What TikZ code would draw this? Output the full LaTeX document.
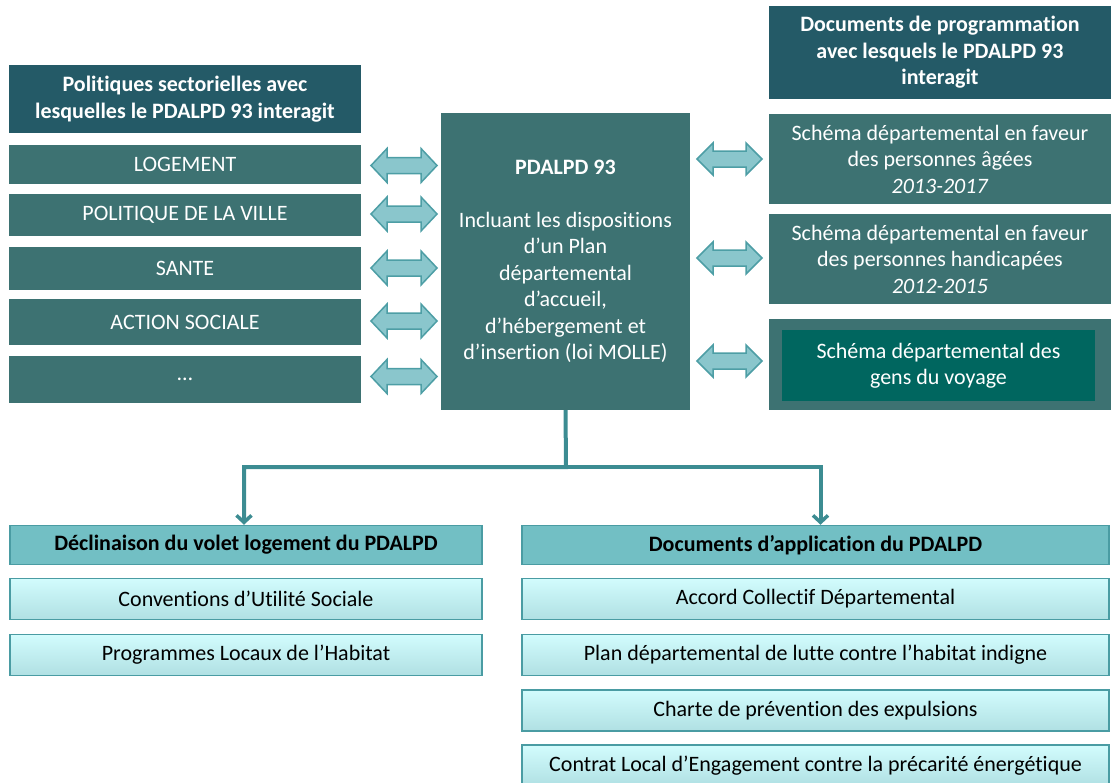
\documentclass[tikz,border=0pt]{standalone}
\usepackage{fontspec}
\setmainfont{Carlito}[RawFeature={-liga}]
\usetikzlibrary{arrows.meta}
\definecolor{hdrc}{HTML}{245A67}
\definecolor{itemc}{HTML}{3D7272}
\definecolor{gensc}{HTML}{00665F}
\definecolor{arrfill}{HTML}{8AC6CC}
\definecolor{arrdraw}{HTML}{4D9EA5}
\definecolor{bhfill}{HTML}{72BFC4}
\definecolor{bdraw}{HTML}{4A9CA3}
\definecolor{btop}{HTML}{D2FCFD}
\definecolor{bbot}{HTML}{B0E0E3}
\definecolor{connc}{HTML}{3C8C92}
\tikzset{
  box/.style={inner sep=0pt, align=center, font=\fontsize{22}{26.5}\selectfont},
  hdr/.style={box, fill=hdrc, text=white, font=\fontsize{22}{26.5}\selectfont\bfseries},
  itembox/.style={box, fill=itemc, text=white},
  gensbox/.style={box, fill=gensc, text=white},
  bhdr/.style={box, fill=bhfill, draw=bdraw, line width=1.5pt, text=black, font=\fontsize{22}{26.5}\selectfont\bfseries},
  bitem/.style={box, top color=btop, bottom color=bbot, draw=bdraw, line width=1.5pt, text=black},
  darr/.style={fill=arrfill, draw=arrdraw, line width=1.5pt, line join=miter},
  conn/.style={draw=connc, line width=4pt, -{Straight Barb[length=7pt,width=15pt,line width=3.5pt]}},
}
% double arrow: x1, x2, yc, half head height
\newcommand\darrow[4]{%
  \draw[darr] (#1,#3) -- ({#1+16},{#3-#4}) -- ({#1+16},{#3-8}) -- ({#2-16},{#3-8}) -- ({#2-16},{#3-#4})
    -- (#2,#3) -- ({#2-16},{#3+#4}) -- ({#2-16},{#3+8}) -- ({#1+16},{#3+8}) -- ({#1+16},{#3+#4}) -- cycle;}
\begin{document}
\begin{tikzpicture}[x=1pt,y=-1pt]
\useasboundingbox (0,0) rectangle (1111,782);
\begin{scope}
\clip (0,0) rectangle (1111,782);
% left column
\node[hdr, minimum width=352pt, minimum height=68pt] (lh) at (185,99) {Politiques sectorielles avec\\lesquelles le PDALPD 93 interagit};
\node[itembox, minimum width=352pt, minimum height=39pt] (l1) at (185,164.5) {LOGEMENT};
\node[itembox, minimum width=352pt, minimum height=42pt] (l2) at (185,215) {POLITIQUE DE LA VILLE};
\node[itembox, minimum width=352pt, minimum height=43pt] (l3) at (185,268.5) {SANTE};
\node[itembox, minimum width=352pt, minimum height=46pt] (l4) at (185,322) {ACTION SOCIALE};
\node[itembox, minimum width=352pt, minimum height=47pt] (l5) at (185,379.5) {…};
% centre
\node[itembox, minimum width=249pt, minimum height=297pt] (c) at (565.5,261.5) {{\bfseries PDALPD 93}\\[26pt]Incluant les dispositions\\d’un Plan\\départemental\\d’accueil,\\d’hébergement et\\d’insertion (loi MOLLE)};
% right column
\node[hdr, minimum width=342pt, minimum height=93pt] (rh) at (940,52.5) {Documents de programmation\\avec lesquels le PDALPD 93\\interagit};
\node[itembox, minimum width=342pt, minimum height=90pt] (r1) at (940,159) {Schéma départemental en faveur\\des personnes âgées\\\textit{2013-2017}};
\node[itembox, minimum width=342pt, minimum height=90pt] (r2) at (940,259) {Schéma départemental en faveur\\des personnes handicapées\\\textit{2012-2015}};
\node[itembox, minimum width=342pt, minimum height=91pt] (r3) at (940,364.5) {};
\node[gensbox, minimum width=313pt, minimum height=71pt] (r3i) at (938.5,365.5) {Schéma départemental des\\gens du voyage};
% double arrows
\darrow{371}{437}{165.5}{17}
\darrow{371}{437}{214}{17}
\darrow{371}{437}{268}{17}
\darrow{371}{437}{321}{17}
\darrow{371}{437}{376.5}{17}
\darrow{697}{762}{159}{16}
\darrow{697}{762}{258}{16}
\darrow{697}{762}{361}{16}
% bottom left
\node[bhdr, minimum width=472pt, minimum height=39pt] (blh) at (246,545) {Déclinaison du volet logement du PDALPD};
\node[bitem, minimum width=472pt, minimum height=41pt] (bl1) at (246,599) {Conventions d’Utilité Sociale};
\node[bitem, minimum width=472pt, minimum height=41pt] (bl2) at (246,655) {Programmes Locaux de l’Habitat};
% bottom right
\node[bhdr, minimum width=587pt, minimum height=39pt] (brh) at (815.5,545) {Documents d’application du PDALPD};
\node[bitem, minimum width=587pt, minimum height=41pt] (br1) at (815.5,599) {Accord Collectif Départemental};
\node[bitem, minimum width=587pt, minimum height=41pt] (br2) at (815.5,655) {Plan départemental de lutte contre l’habitat indigne};
\node[bitem, minimum width=587pt, minimum height=41pt] (br3) at (815.5,710.5) {Charte de prévention des expulsions};
\node[bitem, minimum width=587pt, minimum height=41pt] (br4) at (815.5,765.5) {Contrat Local d’Engagement contre la précarité énergétique};
% connectors
\coordinate (j) at (566,467);
\draw[conn] (c.south) -- (j) -| ([xshift=-2pt]blh.north);
\draw[conn] (j) -| ([xshift=5pt]brh.north);
\end{scope}
\end{tikzpicture}
\end{document}
